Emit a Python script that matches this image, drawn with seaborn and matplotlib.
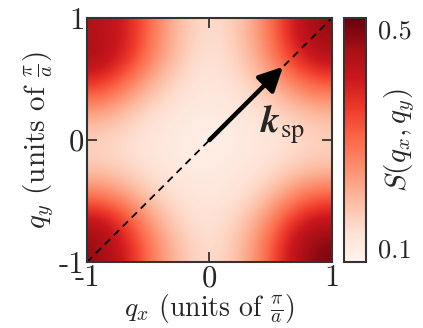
import numpy as np
import matplotlib
matplotlib.use("Agg")
import matplotlib.pyplot as plt
import seaborn as sns

# grid coordinates (units of pi/a)
q_vals = [-1.0, -0.75, -0.5, -0.25, 0.0, 0.25, 0.5, 0.75, 1.0]

# S(qx, qy); rows from qy=+1 (top) to qy=-1 (bottom), cols qx=-1..1
row_p100 = [0.44, 0.40, 0.27, 0.17, 0.13, 0.16, 0.25, 0.40, 0.48]
row_p075 = [0.46, 0.38, 0.25, 0.16, 0.12, 0.15, 0.23, 0.36, 0.44]
row_p050 = [0.36, 0.27, 0.18, 0.13, 0.11, 0.13, 0.17, 0.25, 0.31]
row_p025 = [0.22, 0.17, 0.13, 0.11, 0.10, 0.11, 0.13, 0.16, 0.19]
row_000 = [0.15, 0.13, 0.11, 0.10, 0.09, 0.10, 0.11, 0.13, 0.15]
row_m025 = [0.16, 0.14, 0.12, 0.10, 0.10, 0.11, 0.12, 0.15, 0.17]
row_m050 = [0.27, 0.21, 0.15, 0.12, 0.11, 0.12, 0.16, 0.24, 0.30]
row_m075 = [0.44, 0.34, 0.21, 0.14, 0.12, 0.15, 0.23, 0.37, 0.44]
row_m100 = [0.48, 0.40, 0.26, 0.17, 0.13, 0.17, 0.28, 0.43, 0.50]

tick_vals = [-1, 0, 1]
tick_labels = ["-1", "0", "1"]
cbar_ticks = [0.1, 0.5]
cbar_labels = ["0.1", "0.5"]

arrow_tip = (0.6, 0.6)
arrow_tail = (0.0, 0.0)

S = np.array([row_p100, row_p075, row_p050, row_p025, row_000,
              row_m025, row_m050, row_m075, row_m100])

sns.set_style("ticks")
plt.rcParams["font.family"] = ["cmr10"]
plt.rcParams["mathtext.fontset"] = "cm"
plt.rcParams["axes.formatter.use_mathtext"] = True

cmap = sns.color_palette("Reds", as_cmap=True)

fig = plt.figure(figsize=(4.23, 3.28), dpi=100)
ax = fig.add_axes([0.2057, 0.201, 0.579, 0.744])
cax = fig.add_axes([0.813, 0.201, 0.052, 0.744])

im = ax.imshow(S, cmap=cmap, vmin=0.075, vmax=0.52, interpolation="bicubic",
               extent=[q_vals[0], q_vals[-1], q_vals[0], q_vals[-1]], origin="upper",
               aspect="auto")
ax.set_xlim(-1, 1)
ax.set_ylim(-1, 1)

ax.plot([-1, 1], [-1, 1], color="black", lw=1.3, dashes=(4, 3))
ax.annotate("", xy=arrow_tip, xytext=arrow_tail,
            arrowprops=dict(arrowstyle="-|>", lw=3.2, color="black",
                            mutation_scale=36, shrinkA=0, shrinkB=0))
ax.text(0.41, 0.06, r"$\mathbfit{k}_{\mathrm{sp}}$", fontsize=27,
        ha="left", va="baseline", math_fontfamily="stix")

ax.set_xticks(tick_vals)
ax.set_xticklabels(tick_labels)
ax.set_yticks(tick_vals)
ax.set_yticklabels(tick_labels)
ax.tick_params(direction="in", length=7, width=1.3, labelsize=22,
               top=True, right=True, color="#333333", pad=2)
for sp in ax.spines.values():
    sp.set_linewidth(1.5)
    sp.set_color("#333333")

ax.set_xlabel(r"$q_x$ (units of $\frac{\pi}{a}$)", fontsize=20, labelpad=0)
ax.set_ylabel(r"$q_y$ (units of $\frac{\pi}{a}$)", fontsize=21, labelpad=2)

cb = fig.colorbar(im, cax=cax)
cb.set_ticks(cbar_ticks)
cb.set_ticklabels(cbar_labels)
cax.tick_params(length=0, labelsize=19, pad=9)
cb.outline.set_linewidth(1.5)
cb.outline.set_edgecolor("#333333")
cax.text(2.55, 0.5, r"$S(q_x, q_y)$", fontsize=21, rotation=90,
         ha="center", va="center", transform=cax.transAxes)

fig.savefig("out.png", dpi=100)
